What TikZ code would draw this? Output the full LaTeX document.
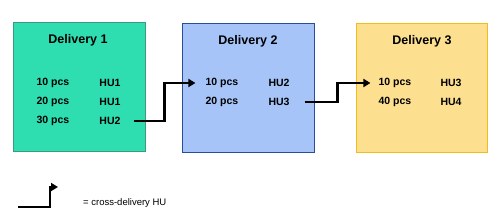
\documentclass[tikz,border=0pt]{standalone}
\usepackage{fontspec}
\setmainfont{Liberation Sans}
\usepackage{xcolor}
\usetikzlibrary{arrows.meta}
\definecolor{delgreen}{HTML}{2EDDB0}
\definecolor{delgreenb}{HTML}{3A9A7E}
\definecolor{delblue}{HTML}{A6C4F8}
\definecolor{delblueb}{HTML}{2A4C9A}
\definecolor{delyellow}{HTML}{FDDF90}
\definecolor{delyellowb}{HTML}{F2BC1A}
\tikzset{
    % boxes and texts
    delbox/.style={draw, line width=0.9pt, minimum width=132pt, minimum height=129pt},
    deltitle/.style={font=\fontsize{12.5}{14}\selectfont\bfseries},
    delrow/.style={font=\fontsize{10.5}{12}\selectfont\bfseries, inner sep=2pt},
    % arrow for a cross-delivery HU
    hoparr/.style={-{Triangle[length=7pt,width=8pt]}, line width=2.6pt},
}
\begin{document}
\begin{tikzpicture}[x=1pt,y=1pt]
    \useasboundingbox (0,0) rectangle (498,219);
    % Deliveries
    \node (D1) at (79,132.5) [delbox, fill=delgreen, draw=delgreenb] {};
    \node (D2) at (248,131.5) [delbox, fill=delblue, draw=delblueb] {};
    \node (D3) at (421.5,131.5) [delbox, minimum width=131pt, fill=delyellow, draw=delyellowb] {};

    \node (T1) at (78,179) [deltitle] {Delivery 1};
    \node (T2) at (248,178) [deltitle] {Delivery 2};
    \node (T3) at (422,178) [deltitle] {Delivery 3};

    \node (P11) at (53,136) [delrow] {10 pcs};
    \node (P12) at (53,117) [delrow] {20 pcs};
    \node (P13) at (53,98) [delrow] {30 pcs};
    \node (H11) at (110,136) [delrow] {HU1};
    \node (H12) at (110,117) [delrow] {HU1};
    \node (H13) at (110,98) [delrow] {HU2};

    \node (P21) at (222,136) [delrow] {10 pcs};
    \node (P22) at (222,117) [delrow] {20 pcs};
    \node (H21) at (279,136) [delrow] {HU2};
    \node (H22) at (279,117) [delrow] {HU3};

    \node (P31) at (395,136) [delrow] {10 pcs};
    \node (P32) at (395,117) [delrow] {40 pcs};
    \node (H31) at (451,136) [delrow] {HU3};
    \node (H32) at (451,117) [delrow] {HU4};

    % ARROWS
    \draw[hoparr] ([xshift=11pt]H13.east) -- ++(31,0) |- ([xshift=-8pt]P21.west);
    \draw[hoparr] ([xshift=13pt]H22.east) -- ++(33,0) |- ([xshift=-6pt]P31.west);

    % legend
    \coordinate (L0) at (18,12);
    \coordinate (L1) at (58,32);
    \draw[hoparr] (L0) -- ++(32,0) |- (L1);
    \node (L) at (83,16) [anchor=west, inner sep=0pt, font=\fontsize{9.5}{11}\selectfont] {= cross-delivery HU};
\end{tikzpicture}
\end{document}
